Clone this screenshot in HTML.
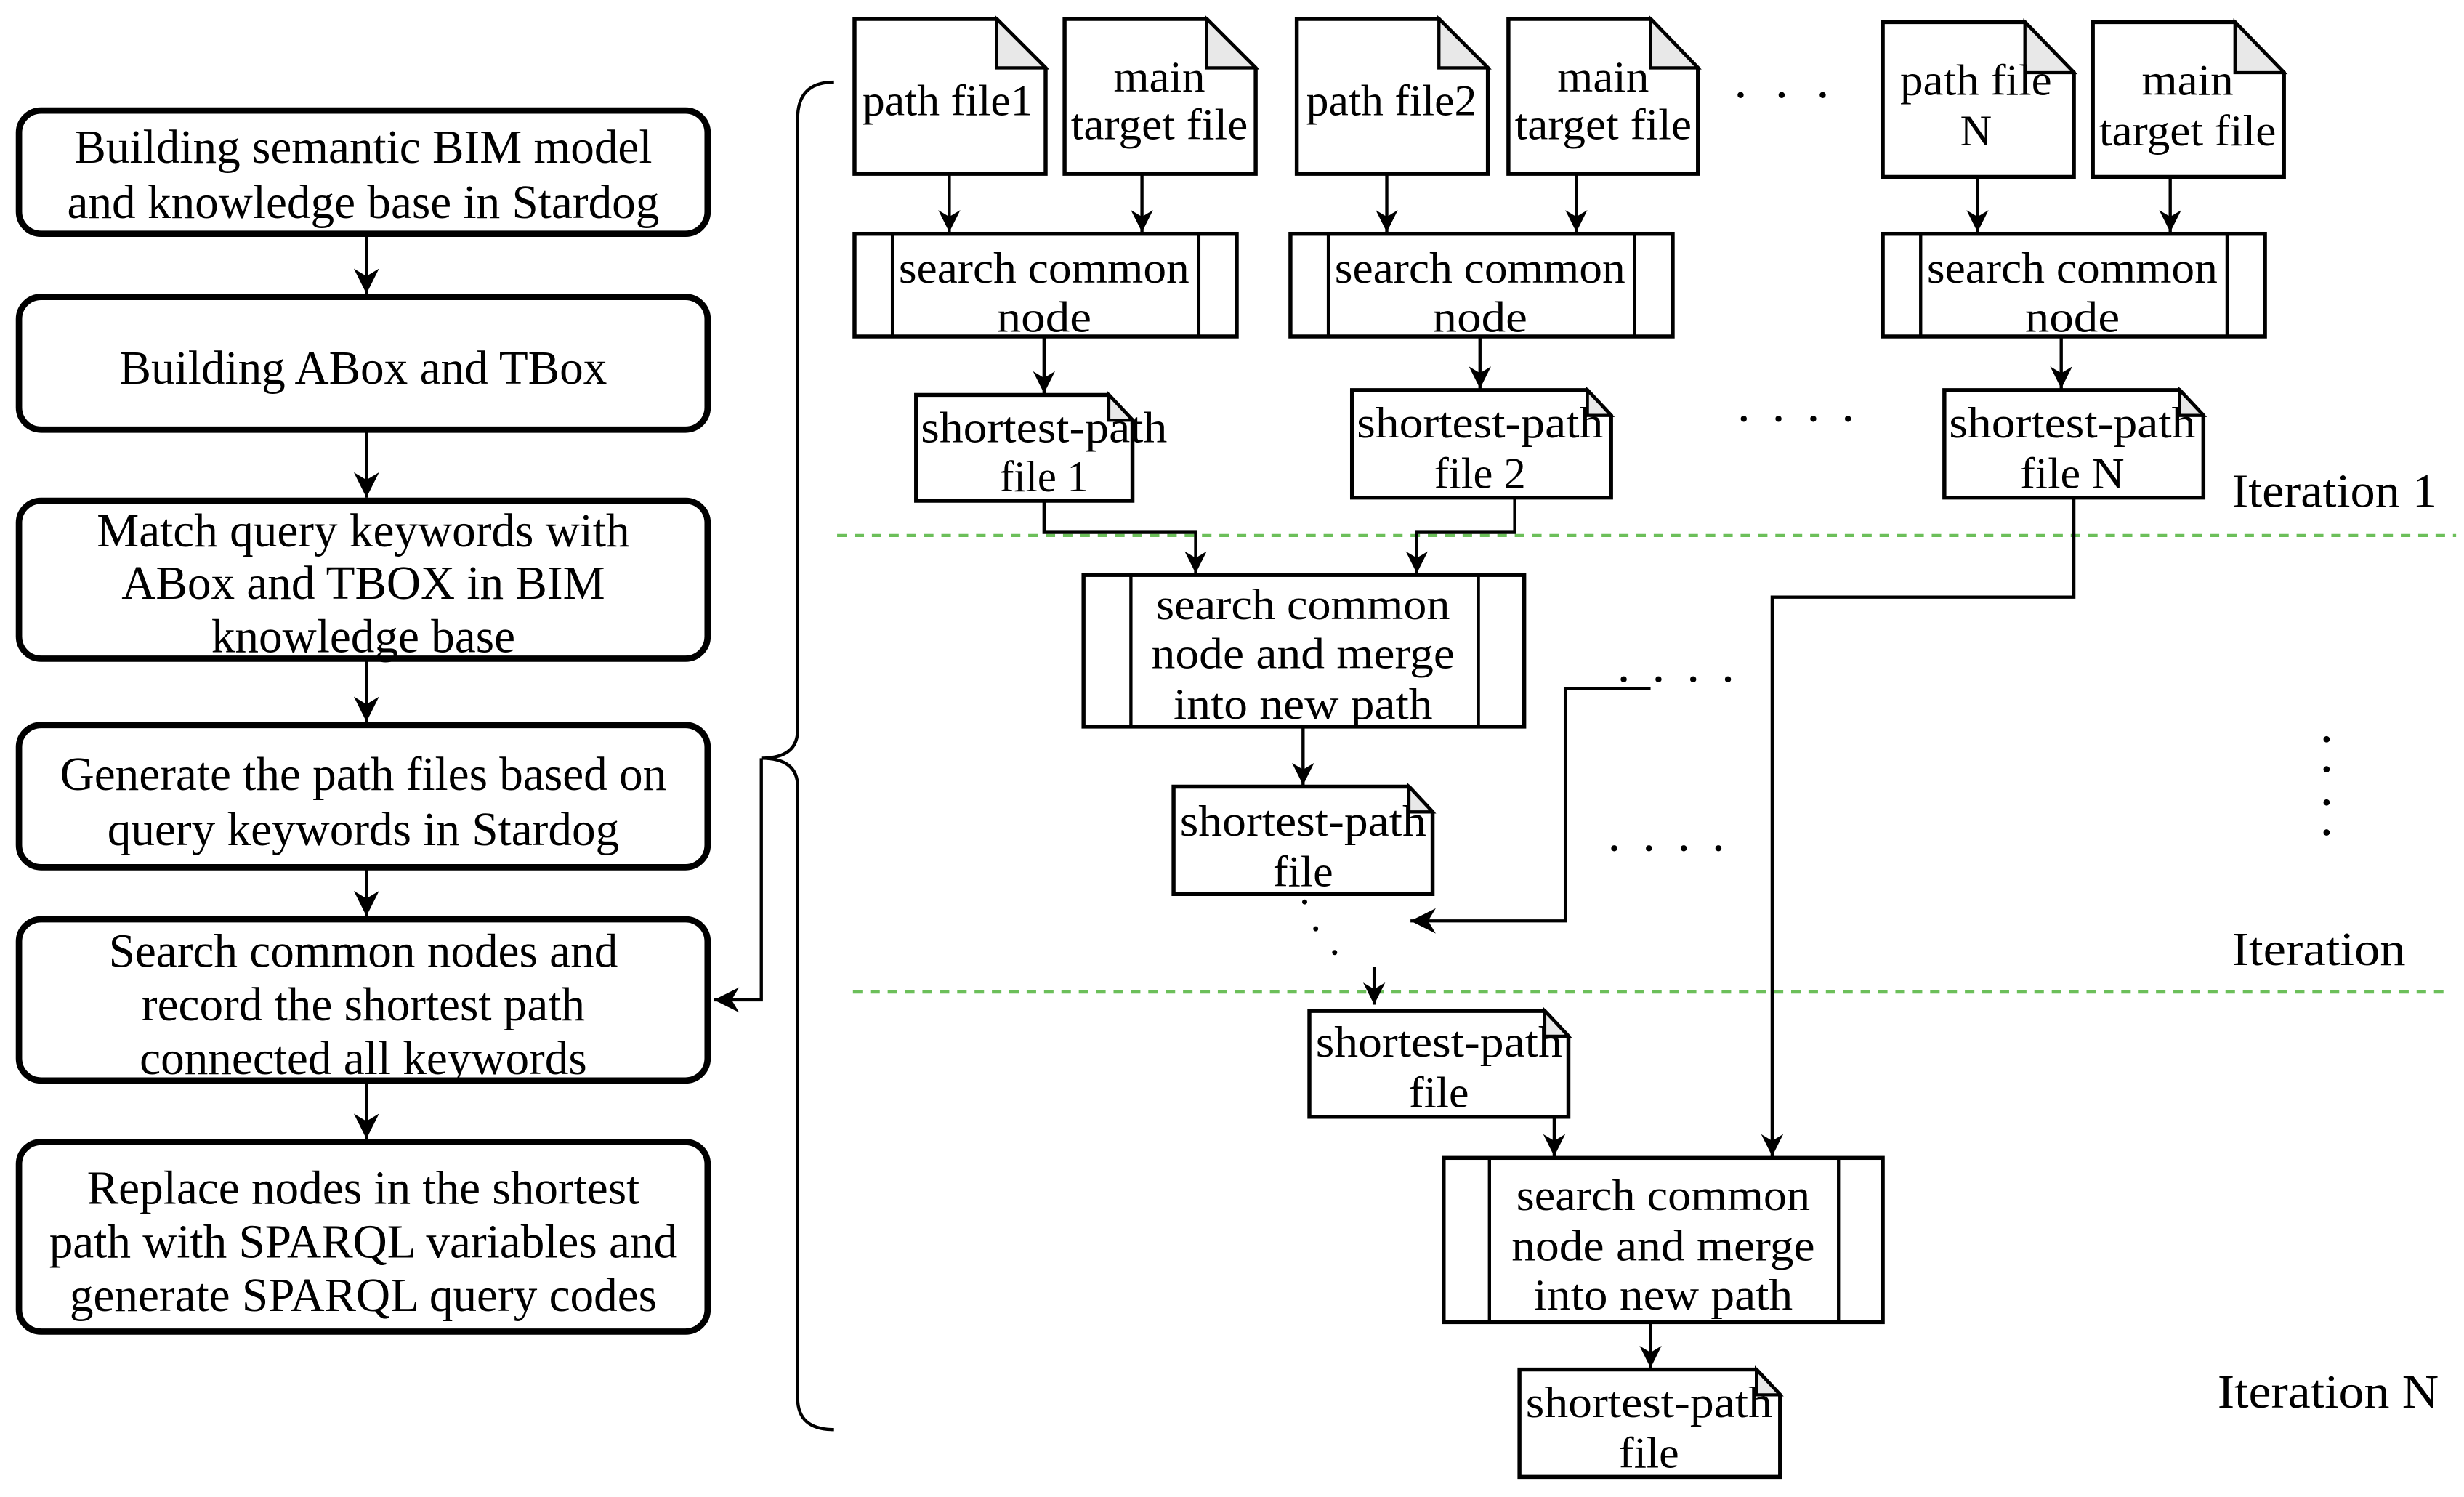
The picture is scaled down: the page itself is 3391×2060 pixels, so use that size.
<!DOCTYPE html>
<html><head><meta charset="utf-8"><style>
html,body{margin:0;padding:0;background:#fff;}
svg{display:block;}
text{font-family:"Liberation Serif",serif;fill:#000;}
.l{font-size:30px;}
.r{font-size:28px;}
</style></head><body>
<svg width="3391" height="2060" viewBox="0 0 1560 947.7" preserveAspectRatio="none" xmlns="http://www.w3.org/2000/svg">
<defs>
<marker id="a" viewBox="0 0 10 10" refX="10" refY="5" markerWidth="16" markerHeight="14" markerUnits="userSpaceOnUse" orient="auto">
<path d="M0,0 L10,5 L0,10 L3,5 Z" fill="#000"/></marker>
<marker id="b" viewBox="0 0 10 10" refX="10" refY="5" markerWidth="18" markerHeight="16" markerUnits="userSpaceOnUse" orient="auto">
<path d="M0,0 L10,5 L0,10 L3,5 Z" fill="#000"/></marker>
</defs>
<g fill="none" stroke="#000" stroke-width="4">
<rect x="12" y="70" width="436" height="78" rx="14"/>
<rect x="12" y="188" width="436" height="84" rx="14"/>
<rect x="12" y="317" width="436" height="100" rx="14"/>
<rect x="12" y="459" width="436" height="90" rx="14"/>
<rect x="12" y="582" width="436" height="102" rx="14"/>
<rect x="12" y="723" width="436" height="120" rx="14"/>
</g>
<g stroke="#000" stroke-width="2" fill="none" marker-end="url(#b)">
<line x1="232" y1="148" x2="232" y2="186"/>
<line x1="232" y1="272" x2="232" y2="315"/>
<line x1="232" y1="417" x2="232" y2="457"/>
<line x1="232" y1="549" x2="232" y2="580"/>
<line x1="232" y1="684" x2="232" y2="721"/>
<polyline points="482,480 482,633 452,633"/>
</g>
<path d="M528,52 Q505,52 505,75 L505,462 Q505,480 482,480 Q505,480 505,498 L505,885 Q505,905 528,905" fill="none" stroke="#000" stroke-width="2"/>
<g class="l" text-anchor="middle">
<text x="230" y="103">Building semantic BIM model</text>
<text x="230" y="138">and knowledge base in Stardog</text>
<text x="230" y="243">Building ABox and TBox</text>
<text x="230" y="346">Match query keywords with</text>
<text x="230" y="379">ABox and TBOX in BIM</text>
<text x="230" y="413">knowledge base</text>
<text x="230" y="500">Generate the path files based on</text>
<text x="230" y="535">query keywords in Stardog</text>
<text x="230" y="612">Search common nodes and</text>
<text x="230" y="646">record the shortest path</text>
<text x="230" y="680">connected all keywords</text>
<text x="230" y="762">Replace nodes in the shortest</text>
<text x="230" y="796">path with SPARQL variables and</text>
<text x="230" y="830">generate SPARQL query codes</text>
</g>
<g fill="#fff" stroke="#000" stroke-width="2.5">
<path d="M541,12 H631 L662,43 V110 H541 Z"/>
<path d="M674,12 H764 L795,43 V110 H674 Z"/>
<path d="M821,12 H911 L942,43 V110 H821 Z"/>
<path d="M955,12 H1045 L1075,43 V110 H955 Z"/>
<path d="M1192,14 H1282 L1313,46 V112 H1192 Z"/>
<path d="M1325,14 H1415 L1446,46 V112 H1325 Z"/>
<path d="M580,250 H702 L717,266 V317 H580 Z"/>
<path d="M856,247 H1005 L1020,263 V315 H856 Z"/>
<path d="M1231,247 H1380 L1395,263 V315 H1231 Z"/>
<path d="M743,498 H892 L907,514 V566 H743 Z"/>
<path d="M829,640 H978 L993,656 V707 H829 Z"/>
<path d="M962,867 H1112 L1127,883 V935 H962 Z"/>
</g>
<g fill="#e8e8e8" stroke="#000" stroke-width="2">
<path d="M631,12 V43 H662 Z"/><path d="M764,12 V43 H795 Z"/>
<path d="M911,12 V43 H942 Z"/><path d="M1045,12 V43 H1075 Z"/>
<path d="M1282,14 V46 H1313 Z"/><path d="M1415,14 V46 H1446 Z"/>
<path d="M702,250 V266 H717 Z"/><path d="M1005,247 V263 H1020 Z"/>
<path d="M1380,247 V263 H1395 Z"/><path d="M892,498 V514 H907 Z"/>
<path d="M978,640 V656 H993 Z"/><path d="M1112,867 V883 H1127 Z"/>
</g>
<g fill="#fff" stroke="#000" stroke-width="2.5">
<rect x="541" y="148" width="242" height="65"/>
<rect x="817" y="148" width="242" height="65"/>
<rect x="1192" y="148" width="242" height="65"/>
<rect x="686" y="364" width="279" height="96"/>
<rect x="914" y="733" width="278" height="104"/>
</g>
<g stroke="#000" stroke-width="2">
<line x1="565" y1="148" x2="565" y2="213"/><line x1="759" y1="148" x2="759" y2="213"/>
<line x1="841" y1="148" x2="841" y2="213"/><line x1="1035" y1="148" x2="1035" y2="213"/>
<line x1="1216" y1="148" x2="1216" y2="213"/><line x1="1410" y1="148" x2="1410" y2="213"/>
<line x1="716" y1="364" x2="716" y2="460"/><line x1="936" y1="364" x2="936" y2="460"/>
<line x1="943" y1="733" x2="943" y2="837"/><line x1="1164" y1="733" x2="1164" y2="837"/>
</g>
<line x1="530" y1="339" x2="1555" y2="339" stroke="#6cbf5a" stroke-width="2" stroke-dasharray="6,5"/>
<line x1="540" y1="628" x2="1550" y2="628" stroke="#6cbf5a" stroke-width="2" stroke-dasharray="6,5"/>
<g stroke="#000" stroke-width="2" fill="none" marker-end="url(#a)">
<line x1="601" y1="110" x2="601" y2="147"/><line x1="723" y1="110" x2="723" y2="147"/>
<line x1="878" y1="110" x2="878" y2="147"/><line x1="998" y1="110" x2="998" y2="147"/>
<line x1="1252" y1="112" x2="1252" y2="147"/><line x1="1374" y1="112" x2="1374" y2="147"/>
<line x1="661" y1="213" x2="661" y2="249"/><line x1="937" y1="213" x2="937" y2="246"/>
<line x1="1305" y1="213" x2="1305" y2="246"/>
<polyline points="661,317 661,337 757,337 757,363"/>
<polyline points="959,315 959,337 897,337 897,363"/>
<polyline points="1313,315 1313,378 1122,378 1122,732"/>
<line x1="825" y1="460" x2="825" y2="497"/>
<polyline points="1045,436 991,436 991,583 893,583" marker-end="url(#b)"/>
<line x1="870" y1="612" x2="870" y2="636"/>
<line x1="984" y1="707" x2="984" y2="732"/>
<line x1="1045" y1="837" x2="1045" y2="866"/>
</g>
<g fill="#000">
<circle cx="826" cy="571" r="1.6"/><circle cx="833" cy="588" r="1.6"/><circle cx="845" cy="603" r="1.6"/>
<circle cx="1473" cy="468" r="2"/><circle cx="1473" cy="487" r="2"/><circle cx="1473" cy="508" r="2"/><circle cx="1473" cy="527" r="2"/>
</g>
<g font-size="24" style="font-family:'Liberation Serif',serif;font-weight:bold">
<text x="1098" y="68" letter-spacing="6">· · ·</text>
<text x="1100" y="273" letter-spacing="4">· · · ·</text>
<text x="1024" y="438" letter-spacing="4">· · · ·</text>
<text x="1018" y="545" letter-spacing="4">· · · ·</text>
</g>
<g class="r" text-anchor="middle" lengthAdjust="spacingAndGlyphs">
<text x="600" y="73" textLength="108" lengthAdjust="spacingAndGlyphs">path file1</text>
<text x="734" y="58" textLength="58" lengthAdjust="spacingAndGlyphs">main</text>
<text x="734" y="88" textLength="112" lengthAdjust="spacingAndGlyphs">target file</text>
<text x="881" y="73" textLength="108" lengthAdjust="spacingAndGlyphs">path file2</text>
<text x="1015" y="58" textLength="58" lengthAdjust="spacingAndGlyphs">main</text>
<text x="1015" y="88" textLength="112" lengthAdjust="spacingAndGlyphs">target file</text>
<text x="1251" y="60" textLength="96" lengthAdjust="spacingAndGlyphs">path file</text>
<text x="1251" y="92" textLength="20" lengthAdjust="spacingAndGlyphs">N</text>
<text x="1385" y="60" textLength="58" lengthAdjust="spacingAndGlyphs">main</text>
<text x="1385" y="92" textLength="112" lengthAdjust="spacingAndGlyphs">target file</text>
<text x="661" y="179" textLength="184" lengthAdjust="spacingAndGlyphs">search common</text>
<text x="661" y="210" textLength="60" lengthAdjust="spacingAndGlyphs">node</text>
<text x="937" y="179" textLength="184" lengthAdjust="spacingAndGlyphs">search common</text>
<text x="937" y="210" textLength="60" lengthAdjust="spacingAndGlyphs">node</text>
<text x="1312" y="179" textLength="184" lengthAdjust="spacingAndGlyphs">search common</text>
<text x="1312" y="210" textLength="60" lengthAdjust="spacingAndGlyphs">node</text>
<text x="661" y="280" textLength="156" lengthAdjust="spacingAndGlyphs">shortest-path</text>
<text x="661" y="311" textLength="56" lengthAdjust="spacingAndGlyphs">file 1</text>
<text x="937" y="277" textLength="156" lengthAdjust="spacingAndGlyphs">shortest-path</text>
<text x="937" y="309" textLength="58" lengthAdjust="spacingAndGlyphs">file 2</text>
<text x="1312" y="277" textLength="156" lengthAdjust="spacingAndGlyphs">shortest-path</text>
<text x="1312" y="309" textLength="66" lengthAdjust="spacingAndGlyphs">file N</text>
<text x="825" y="392" textLength="186" lengthAdjust="spacingAndGlyphs">search common</text>
<text x="825" y="423" textLength="192" lengthAdjust="spacingAndGlyphs">node and merge</text>
<text x="825" y="455" textLength="164" lengthAdjust="spacingAndGlyphs">into new path</text>
<text x="825" y="529" textLength="156" lengthAdjust="spacingAndGlyphs">shortest-path</text>
<text x="825" y="561" textLength="38" lengthAdjust="spacingAndGlyphs">file</text>
<text x="911" y="669" textLength="156" lengthAdjust="spacingAndGlyphs">shortest-path</text>
<text x="911" y="701" textLength="38" lengthAdjust="spacingAndGlyphs">file</text>
<text x="1053" y="766" textLength="186" lengthAdjust="spacingAndGlyphs">search common</text>
<text x="1053" y="798" textLength="192" lengthAdjust="spacingAndGlyphs">node and merge</text>
<text x="1053" y="829" textLength="164" lengthAdjust="spacingAndGlyphs">into new path</text>
<text x="1044" y="897" textLength="156" lengthAdjust="spacingAndGlyphs">shortest-path</text>
<text x="1044" y="929" textLength="38" lengthAdjust="spacingAndGlyphs">file</text>
</g>
<g font-size="30">
<text x="1413" y="321" textLength="130" lengthAdjust="spacingAndGlyphs">Iteration 1</text>
<text x="1413" y="611" textLength="110" lengthAdjust="spacingAndGlyphs">Iteration</text>
<text x="1404" y="891" textLength="140" lengthAdjust="spacingAndGlyphs">Iteration N</text>
</g>
</svg>
</body></html>
